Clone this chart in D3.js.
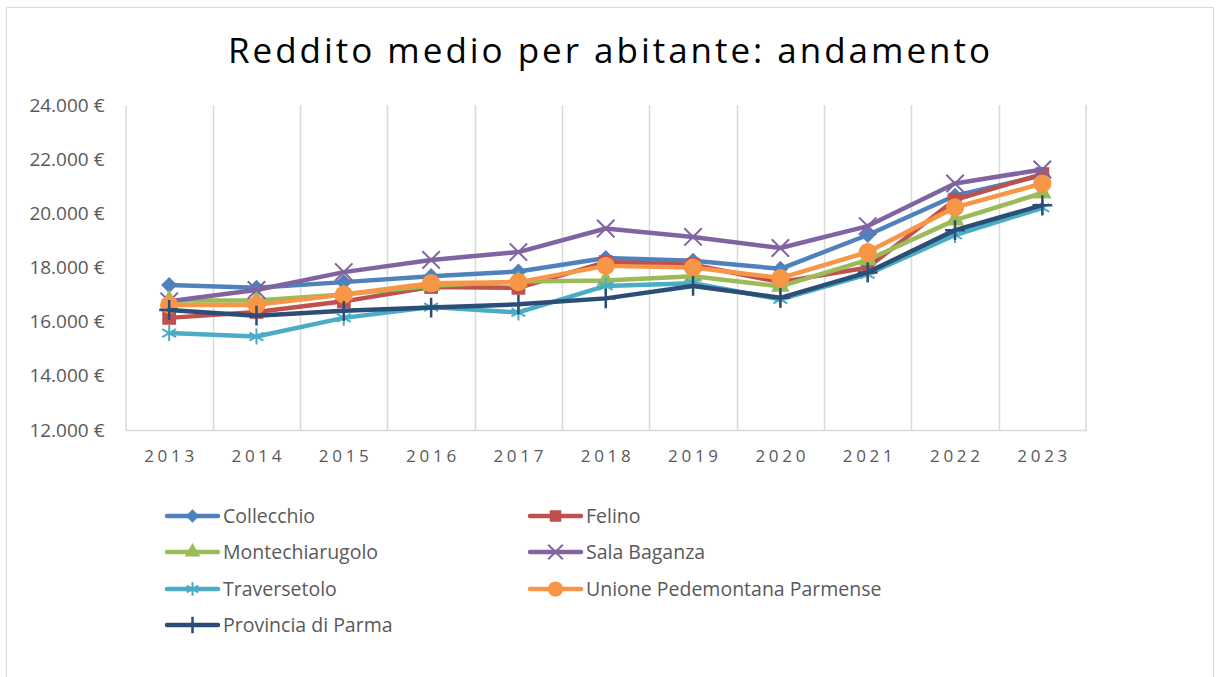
<!DOCTYPE html>
<html>
<head>
<meta charset="utf-8">
<script src="https://cdn.jsdelivr.net/npm/d3@7"></script>
<style>
  body { margin: 0; background: #fff; }
  svg { display: block; font-family: "Open Sans", sans-serif; }
</style>
</head>
<body>
<div id="chart-area"></div>
<script>
// data
let years = ["2013","2014","2015","2016","2017","2018","2019","2020","2021","2022","2023"];
let collecchio      = [17350,17250,17460,17680,17850,18350,18250,17950,19200,20650,21400];
let felino          = [16140,16360,16750,17280,17250,18200,18100,17460,18000,20500,21450];
let montechiarugolo = [16780,16780,17000,17330,17480,17520,17680,17300,18280,19750,20750];
let salaBaganza     = [16750,17170,17830,18280,18570,19440,19130,18720,19530,21100,21620];
let traversetolo    = [15580,15450,16140,16540,16340,17320,17420,16820,17750,19200,20200];
let unione          = [16620,16620,17000,17420,17460,18060,18000,17610,18570,20220,21100];
let provincia       = [16430,16220,16400,16520,16640,16860,17320,16880,17820,19380,20300];
let yTicks = [12000,14000,16000,18000,20000,22000,24000];

let seriesNames = ["Collecchio","Felino","Montechiarugolo","Sala Baganza","Traversetolo","Unione Pedemontana Parmense","Provincia di Parma"];
let seriesValues = [collecchio, felino, montechiarugolo, salaBaganza, traversetolo, unione, provincia];
let seriesColors = ["#4F81BD","#C0504D","#9BBB59","#8064A2","#4BACC6","#F79646","#2C4D75"];
let seriesMarkers = ["diamond","square","triangle","times","asterisk","circle","plus"];

let width = 1216, height = 677;

let svg = d3.select("#chart-area").append("svg")
	.attr("width", width)
	.attr("height", height);

// chart border
svg.append("path")
	.attr("d", "M6.5,677 V7.5 H1213.5 V677")
	.attr("fill", "none")
	.attr("stroke", "#d9d9d9")
	.attr("stroke-width", 1);

// title
svg.append("text")
	.attr("x", 228)
	.attr("y", 63)
	.attr("textLength", 762)
	.attr("lengthAdjust", "spacing")
	.attr("font-size", 35)
	.attr("fill", "#000")
	.text("Reddito medio per abitante: andamento");

let plot = {left: 125.5, right: 1086, top: 105, bottom: 430};

let x = d3.scaleBand().domain(years).range([plot.left, plot.right]);
let y = d3.scaleLinear().domain([12000, 24000]).range([plot.bottom, plot.top]);
let cx = d => x(d) + x.bandwidth() / 2;

// vertical gridlines on category boundaries
svg.append("g").selectAll("line")
	.data(years.slice(1).concat(["end"]))
	.enter().append("line")
	.attr("x1", (d, i) => i < years.length - 1 ? Math.round(x(d)) + 0.5 : plot.right)
	.attr("x2", (d, i) => i < years.length - 1 ? Math.round(x(d)) + 0.5 : plot.right)
	.attr("y1", plot.top)
	.attr("y2", plot.bottom)
	.attr("stroke", "#d9d9d9")
	.attr("stroke-width", 1.5);

let it = d3.formatLocale({decimal: ",", thousands: ".", grouping: [3], currency: ["", " €"]});
let fmt = it.format("$,.0f");

// y axis
let yAxis = svg.append("g")
	.attr("transform", "translate(" + plot.left + ",0)")
	.call(d3.axisLeft(y).tickValues(yTicks).tickFormat(fmt).tickSize(0).tickPadding(21));
yAxis.select(".domain").attr("stroke", "#d9d9d9").attr("stroke-width", 1.5);
yAxis.selectAll("text").attr("font-size", 19).attr("fill", "#595959").attr("font-family", "Open Sans, sans-serif");

// x axis
let xAxis = svg.append("g")
	.attr("transform", "translate(0," + plot.bottom + ")")
	.call(d3.axisBottom(x).tickSize(0).tickPadding(0));
xAxis.select(".domain").attr("stroke", "#d9d9d9").attr("stroke-width", 1.5);
xAxis.selectAll("text")
	.attr("y", 32)
	.attr("dy", 0)
	.attr("font-size", 17)
	.attr("fill", "#595959")
	.attr("font-family", "Open Sans, sans-serif")
	.attr("textLength", 50)
	.attr("lengthAdjust", "spacing");

function markerPath(type, size) {
	let types = {
		diamond: d3.symbolSquare, square: d3.symbolSquare, triangle: d3.symbolTriangle,
		times: d3.symbolTimes, asterisk: d3.symbolAsterisk, circle: d3.symbolCircle, plus: d3.symbolPlus
	};
	return d3.symbol().type(types[type]).size(size)();
}
let markerSize = {diamond: 130, square: 190, triangle: 150, times: 200, asterisk: 180, circle: 260, plus: 130};
let stroked = {times: 1, asterisk: 1, plus: 1};

function drawMarker(g, type, color, px, py, scale) {
	let p = g.append("path")
		.attr("d", markerPath(type, markerSize[type] * scale))
		.attr("transform", "translate(" + px + "," + py + ")" + (type === "diamond" ? " rotate(45)" : ""));
	if (stroked[type]) {
		p.attr("fill", "none").attr("stroke", color).attr("stroke-width", type === "plus" ? 2.5 : 2);
	} else {
		p.attr("fill", color);
	}
}

let line = d3.line().x((d, i) => cx(years[i])).y(d => y(d));

seriesValues.forEach((vals, s) => {
	let g = svg.append("g");
	g.append("path")
		.datum(vals)
		.attr("d", line)
		.attr("fill", "none")
		.attr("stroke", seriesColors[s])
		.attr("stroke-width", 4.5)
		.attr("stroke-linejoin", "round")
		.attr("stroke-linecap", "round");
	vals.forEach((v, i) => drawMarker(g, seriesMarkers[s], seriesColors[s], cx(years[i]), y(v), 1));
});

// legend
let legendCols = [167, 530];
let legendRows = [516, 552, 589, 625];
seriesNames.forEach((name, s) => {
	let col = s % 2, row = Math.floor(s / 2);
	let lx = legendCols[col], ly = legendRows[row];
	let g = svg.append("g");
	g.append("line")
		.attr("x1", lx).attr("x2", lx + 51)
		.attr("y1", ly).attr("y2", ly)
		.attr("stroke", seriesColors[s])
		.attr("stroke-width", 4.5)
		.attr("stroke-linecap", "round");
	drawMarker(g, seriesMarkers[s], seriesColors[s], lx + 25.5, ly, 0.7);
	g.append("text")
		.attr("x", lx + 56)
		.attr("y", ly + 7)
		.attr("font-size", 19.5)
		.attr("fill", "#595959")
		.text(name);
});
</script>
</body>
</html>
